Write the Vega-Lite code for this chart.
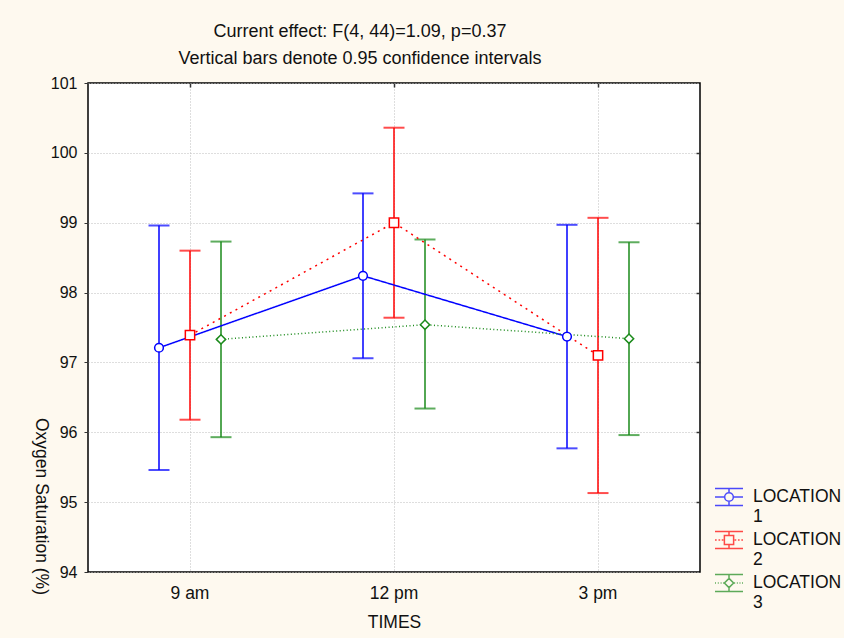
{
  "$schema": "https://vega.github.io/schema/vega-lite/v6.json",
  "width": 612,
  "height": 489,
  "autosize": {"type": "none"},
  "padding": {"left": 88, "top": 83, "right": 144, "bottom": 66},
  "background": "#FEF9EF",
  "config": {
    "font": "Liberation Sans",
    "view": {"fill": "white", "stroke": "black", "strokeWidth": 1.5},
    "axis": {"labelFont": "Liberation Sans", "titleFont": "Liberation Sans", "labelColor": "#111", "titleColor": "#111", "titleFontWeight": "normal", "domain": false, "grid": true, "gridColor": "#bdbdbd", "gridDash": [1, 2], "gridWidth": 1, "tickColor": "#333"},
    "axisX": {"labelFontSize": 17.5, "labelAngle": 0, "ticks": false, "labelPadding": 12, "titleFontSize": 17.5, "titleY": 50, "titleBaseline": "middle", "bandPosition": 0.5},
    "axisY": {"labelFontSize": 16, "tickSize": 4, "labelPadding": 7, "titleFontSize": 17.5, "titleAngle": 90, "titleX": -48, "titleY": 423, "titleAlign": "center", "titleBaseline": "middle", "format": "d"}
  },
  "title": {
    "text": ["Current effect: F(4, 44)=1.09, p=0.37", "Vertical bars denote 0.95 confidence intervals"],
    "fontSize": 18,
    "fontWeight": "normal",
    "font": "Liberation Sans",
    "color": "#111",
    "lineHeight": 27,
    "dx": -34,
    "dy": 25,
    "offset": 14,
    "baseline": "bottom",
    "anchor": "middle"
  },
  "data": {
    "values": [
      {"time": "9 am", "location": "LOCATION 1", "mean": 97.21, "lo": 95.46, "hi": 98.96},
      {"time": "9 am", "location": "LOCATION 2", "mean": 97.39, "lo": 96.18, "hi": 98.60},
      {"time": "9 am", "location": "LOCATION 3", "mean": 97.33, "lo": 95.93, "hi": 98.73},
      {"time": "12 pm", "location": "LOCATION 1", "mean": 98.24, "lo": 97.06, "hi": 99.42},
      {"time": "12 pm", "location": "LOCATION 2", "mean": 99.00, "lo": 97.64, "hi": 100.36},
      {"time": "12 pm", "location": "LOCATION 3", "mean": 97.54, "lo": 96.34, "hi": 98.76},
      {"time": "3 pm", "location": "LOCATION 1", "mean": 97.37, "lo": 95.77, "hi": 98.97},
      {"time": "3 pm", "location": "LOCATION 2", "mean": 97.10, "lo": 95.13, "hi": 99.07},
      {"time": "3 pm", "location": "LOCATION 3", "mean": 97.34, "lo": 95.96, "hi": 98.72}
    ]
  },
  "encoding": {
    "x": {"field": "time", "type": "nominal", "title": "TIMES", "scale": {"domain": ["9 am", "12 pm", "3 pm"], "paddingInner": 0, "paddingOuter": 0}},
    "xOffset": {"field": "location", "type": "nominal", "scale": {"type": "point", "range": [71, 133], "padding": 0}}
  },
  "resolve": {"axis": {"x": "independent", "y": "independent"}},
  "layer": [
    {
      "layer": [
        {
          "mark": {"type": "rule", "strokeWidth": 1.5},
          "encoding": {
            "y": {"field": "lo", "type": "quantitative", "title": "Oxygen Saturation (%)", "scale": {"domain": [94, 101], "nice": false, "zero": false}, "axis": {"values": [94, 95, 96, 97, 98, 99, 100, 101], "format": "d"}},
            "y2": {"field": "hi"},
            "stroke": {"field": "location", "type": "nominal", "scale": {"range": ["#0000FF", "#FF0000", "#1A8A1A"]}, "legend": null}
          }
        },
        {
          "mark": {"type": "tick", "size": 21, "thickness": 2, "orient": "horizontal"},
          "encoding": {
            "y": {"field": "hi", "type": "quantitative", "title": "Oxygen Saturation (%)", "scale": {"domain": [94, 101], "nice": false, "zero": false}},
            "fill": {"field": "location", "type": "nominal", "scale": {"range": ["#0000FF", "#FF0000", "#1A8A1A"]}, "legend": null}
          }
        },
        {
          "mark": {"type": "tick", "size": 21, "thickness": 2, "orient": "horizontal"},
          "encoding": {
            "y": {"field": "lo", "type": "quantitative", "title": "Oxygen Saturation (%)", "scale": {"domain": [94, 101], "nice": false, "zero": false}},
            "fill": {"field": "location", "type": "nominal", "scale": {"range": ["#0000FF", "#FF0000", "#1A8A1A"]}, "legend": null}
          }
        },
        {
          "mark": {"type": "line"},
          "encoding": {
            "y": {"field": "mean", "type": "quantitative", "title": "Oxygen Saturation (%)", "scale": {"domain": [94, 101], "nice": false, "zero": false}},
            "stroke": {"field": "location", "type": "nominal", "scale": {"range": ["#0000FF", "#FF0000", "#1A8A1A"]}, "legend": null},
            "strokeDash": {"field": "location", "type": "nominal", "scale": {"range": [[1, 0], [2, 4.5], [1, 2.5]]}, "legend": null},
            "strokeWidth": {"field": "location", "type": "nominal", "scale": {"range": [1.5, 1.5, 1]}, "legend": null}
          }
        },
        {
          "transform": [{"filter": "datum.location === 'LOCATION 1'"}],
          "mark": {"type": "point", "shape": "circle", "size": 76, "filled": false, "fill": "white", "fillOpacity": 1, "opacity": 1, "strokeWidth": 1.5},
          "encoding": {
            "y": {"field": "mean", "type": "quantitative", "title": "Oxygen Saturation (%)", "scale": {"domain": [94, 101], "nice": false, "zero": false}},
            "stroke": {"field": "location", "type": "nominal", "scale": {"range": ["#0000FF", "#FF0000", "#1A8A1A"]}, "legend": null}
          }
        },
        {
          "transform": [{"filter": "datum.location === 'LOCATION 2'"}],
          "mark": {"type": "point", "shape": "square", "size": 87, "filled": false, "fill": "white", "fillOpacity": 1, "opacity": 1, "strokeWidth": 1.5},
          "encoding": {
            "y": {"field": "mean", "type": "quantitative", "title": "Oxygen Saturation (%)", "scale": {"domain": [94, 101], "nice": false, "zero": false}},
            "stroke": {"field": "location", "type": "nominal", "scale": {"range": ["#0000FF", "#FF0000", "#1A8A1A"]}, "legend": null}
          }
        },
        {
          "transform": [{"filter": "datum.location === 'LOCATION 3'"}],
          "mark": {"type": "point", "shape": "diamond", "size": 87, "filled": false, "fill": "white", "fillOpacity": 1, "opacity": 1, "strokeWidth": 1.5},
          "encoding": {
            "y": {"field": "mean", "type": "quantitative", "title": "Oxygen Saturation (%)", "scale": {"domain": [94, 101], "nice": false, "zero": false}},
            "stroke": {"field": "location", "type": "nominal", "scale": {"range": ["#0000FF", "#FF0000", "#1A8A1A"]}, "legend": null}
          }
        }
      ]
    },
    {
      "transform": [{"filter": "datum.mean > 1000"}],
      "mark": {"type": "point", "size": 784, "filled": false, "strokeWidth": 1.5},
      "encoding": {
        "x": {"field": "time", "type": "nominal", "scale": {"domain": ["9 am", "12 pm", "3 pm"], "paddingInner": 0, "paddingOuter": 0}, "axis": {"orient": "top", "labels": false, "grid": false, "ticks": true, "tickSize": -4, "tickWidth": 1.5, "title": null}},
        "y": {"field": "mean", "type": "quantitative", "scale": {"domain": [94, 101], "nice": false, "zero": false}, "axis": {"orient": "right", "labels": false, "grid": false, "ticks": true, "tickSize": -4, "tickWidth": 1.5, "title": null, "values": [95, 96, 97, 98, 99, 100]}},
        "color": {"field": "location", "type": "nominal", "scale": {"domain": ["LOCATION 1", "LOCATION 2", "LOCATION 3"], "range": ["#0000FF", "#FF0000", "#1A8A1A"]},
          "legend": {"orient": "none", "legendX": 626, "legendY": 399, "title": null, "labelExpr": "split(datum.label, ' ')", "labelFont": "Liberation Sans", "labelFontSize": 17.5, "labelColor": "#111", "labelBaseline": "middle", "labelOffset": 9, "labelLimit": 200, "symbolSize": 784, "symbolStrokeWidth": 1.5, "symbolFillColor": "transparent", "rowPadding": 0}},
        "shape": {"field": "location", "type": "nominal", "scale": {"domain": ["LOCATION 1", "LOCATION 2", "LOCATION 3"], "range": [
            "M-1,-0.6H1M-1,0.6H1M0,-0.6V-0.31M0,0.31V0.6M-1,0H-0.31M0.31,0H1M0.31,0A0.31,0.31,0,1,1,-0.31,0A0.31,0.31,0,1,1,0.31,0",
            "M-1,-0.6H1M-1,0.6H1M0,-0.6V-0.33M0,0.33V0.6M-0.33,-0.33H0.33V0.33H-0.33ZM-1,0h0.12M-0.75,0h0.12M-0.52,0h0.12M0.4,0h0.12M0.64,0h0.12M0.88,0h0.12",
            "M-1,-0.6H1M-1,0.6H1M0,-0.6V-0.33M0,0.33V0.6M0,-0.33L0.33,0L0,0.33L-0.33,0ZM-1,0h0.07M-0.8,0h0.07M-0.6,0h0.07M-0.42,0h0.07M0.37,0h0.07M0.56,0h0.07M0.75,0h0.07M0.93,0h0.07"
          ]},
          "legend": {"orient": "none", "legendX": 626, "legendY": 399, "title": null, "labelExpr": "split(datum.label, ' ')", "labelFont": "Liberation Sans", "labelFontSize": 17.5, "labelColor": "#111", "labelBaseline": "middle", "labelOffset": 9, "labelLimit": 200, "symbolSize": 784, "symbolStrokeWidth": 1.5, "symbolFillColor": "transparent", "rowPadding": 0}}
      }
    }
  ]
}
